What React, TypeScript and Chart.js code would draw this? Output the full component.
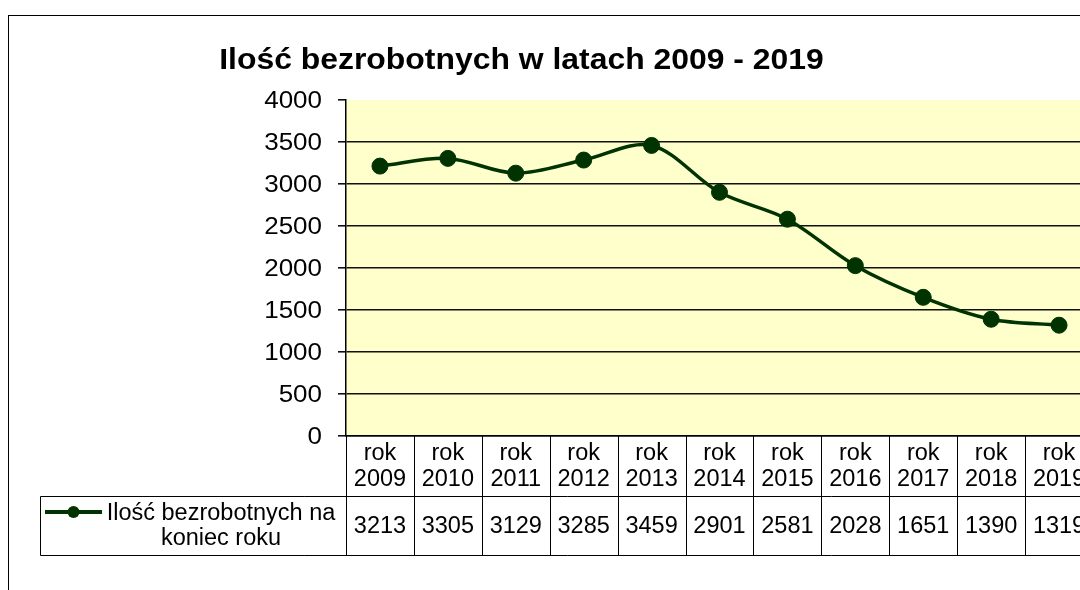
import React, { useEffect, useRef } from 'react';
import { Chart, registerables } from 'chart.js';

Chart.register(...registerables);

const TITLE = 'Ilość bezrobotnych w latach 2009 - 2019';
const categories = ['rok 2009', 'rok 2010', 'rok 2011', 'rok 2012', 'rok 2013', 'rok 2014', 'rok 2015', 'rok 2016', 'rok 2017', 'rok 2018', 'rok 2019'];
const values = [3213, 3305, 3129, 3285, 3459, 2901, 2581, 2028, 1651, 1390, 1319];
const seriesLabelLines = ['Ilość bezrobotnych na', 'koniec roku'];
const yMin = 0;
const yMax = 4000;
const yStep = 500;

const LINE_COLOR = '#003300';
const PLOT_BG = '#FFFFCC';
const FONT = '"Liberation Sans", Arial, sans-serif';

const decorPlugin = {
  id: 'decor',
  beforeDraw(chart: any) {
    const { ctx, chartArea: a } = chart;
    ctx.save();
    ctx.fillStyle = '#ffffff';
    ctx.fillRect(0, 0, chart.width, chart.height);
    ctx.fillStyle = PLOT_BG;
    ctx.fillRect(a.left, a.top, a.right - a.left, a.bottom - a.top);
    ctx.strokeStyle = '#000';
    ctx.lineWidth = 1;
    ctx.strokeRect(8.5, 15.5, chart.width + 40, chart.height + 40);
    ctx.restore();
  },
  afterDraw(chart: any) {
    const { ctx, chartArea: a } = chart;
    const xs = chart.scales.x;
    const ys = chart.scales.y;
    ctx.save();

    // title
    ctx.fillStyle = '#000';
    ctx.font = `bold 29px ${FONT}`;
    ctx.textAlign = 'center';
    ctx.textBaseline = 'alphabetic';
    ctx.save();
    ctx.translate(521.5, 69);
    ctx.scale(1.1, 1);
    ctx.fillText(TITLE, 0, 0);
    ctx.restore();

    // y labels
    ctx.font = `23px ${FONT}`;
    ctx.textAlign = 'right';
    for (const t of ys.ticks) {
      const y = ys.getPixelForValue(t.value);
      ctx.save();
      ctx.translate(ys.right - 8 - 16, y + 8.3);
      ctx.scale(1.13, 1);
      ctx.fillText(String(t.value), 0, 0);
      ctx.restore();
    }

    // data table
    const n = categories.length;
    const colW = (xs.right - xs.left) / n;
    const top = a.bottom;
    const mid = top + 60;
    const bot = top + 118.5;
    const legendLeft = 40.5;
    ctx.strokeStyle = '#000';
    ctx.lineWidth = 1;
    ctx.beginPath();
    for (let i = 0; i <= n; i++) {
      const x = Math.round(xs.left + i * colW) + 0.5;
      ctx.moveTo(x, top);
      ctx.lineTo(x, Math.round(bot) + 0.5);
    }
    ctx.moveTo(legendLeft, Math.round(mid) + 0.5);
    ctx.lineTo(xs.right + 2, Math.round(mid) + 0.5);
    ctx.moveTo(legendLeft, Math.round(bot) + 0.5);
    ctx.lineTo(xs.right + 2, Math.round(bot) + 0.5);
    ctx.moveTo(legendLeft, Math.round(mid) + 0.5);
    ctx.lineTo(legendLeft, Math.round(bot) + 0.5);
    ctx.stroke();

    ctx.fillStyle = '#000';
    ctx.textAlign = 'center';
    ctx.font = `23.5px ${FONT}`;
    categories.forEach((c, i) => {
      const cx = xs.getPixelForValue(i);
      const parts = c.split(' ');
      ctx.fillText(parts[0], cx, top + 24);
      ctx.fillText(parts[1], cx, top + 50);
      ctx.fillText(String(values[i]), cx, top + 97);
    });

    // legend key
    ctx.font = `23.5px ${FONT}`;
    ctx.fillText(seriesLabelLines[0], 221, top + 84);
    ctx.fillText(seriesLabelLines[1], 221, top + 109);
    ctx.strokeStyle = LINE_COLOR;
    ctx.lineWidth = 4;
    ctx.beginPath();
    ctx.moveTo(45, top + 76);
    ctx.lineTo(102, top + 76);
    ctx.stroke();
    ctx.fillStyle = LINE_COLOR;
    ctx.beginPath();
    ctx.arc(73.5, top + 76, 6, 0, Math.PI * 2);
    ctx.fill();

    ctx.restore();
  },
};

export default function App() {
  const ref = useRef<HTMLCanvasElement | null>(null);
  useEffect(() => {
    document.body.style.margin = '0';
    document.body.style.overflow = 'hidden';
    const canvas = ref.current;
    if (!canvas) return;
    const chart = new Chart(canvas, {
      type: 'line',
      data: {
        labels: categories,
        datasets: [
          {
            label: seriesLabelLines.join(' '),
            data: values,
            borderColor: LINE_COLOR,
            backgroundColor: LINE_COLOR,
            borderWidth: 3.5,
            pointRadius: 8,
            pointBorderWidth: 1,
            pointBackgroundColor: LINE_COLOR,
            pointBorderColor: LINE_COLOR,
            tension: 0.33,
            fill: false,
          },
        ],
      },
      options: {
        responsive: false,
        animation: false,
        events: [],
        layout: { padding: { top: 100, right: 17, left: 0, bottom: 0 } },
        plugins: {
          legend: { display: false },
          title: { display: false },
          tooltip: { enabled: false },
        },
        scales: {
          x: {
            offset: true,
            grid: { display: false },
            border: { display: true, color: '#000', width: 1.5 },
            ticks: { display: false },
            afterFit: (s: any) => {
              s.height = 154;
            },
          },
          y: {
            min: yMin,
            max: yMax,
            ticks: {
              stepSize: yStep,
              color: 'rgba(0,0,0,0)',
              padding: 16,
              font: { size: 23 },
              callback: (v: any) => String(v),
            },
            grid: {
              color: (c: any) => (c.tick && c.tick.value === yMax ? 'rgba(0,0,0,0)' : '#111'),
              tickColor: '#111',
              tickLength: 8,
              lineWidth: 1.6,
            },
            border: { display: true, color: '#000', width: 1.5 },
            afterFit: (s: any) => {
              s.width = 346;
            },
          },
        },
      },
      plugins: [decorPlugin],
    });
    return () => chart.destroy();
  }, []);

  return (
    <div style={{ width: 1080, height: 590, overflow: 'hidden', position: 'relative' }}>
      <canvas ref={ref} width={1110} height={590} style={{ display: 'block', width: 1110, height: 590 }} />
    </div>
  );
}
